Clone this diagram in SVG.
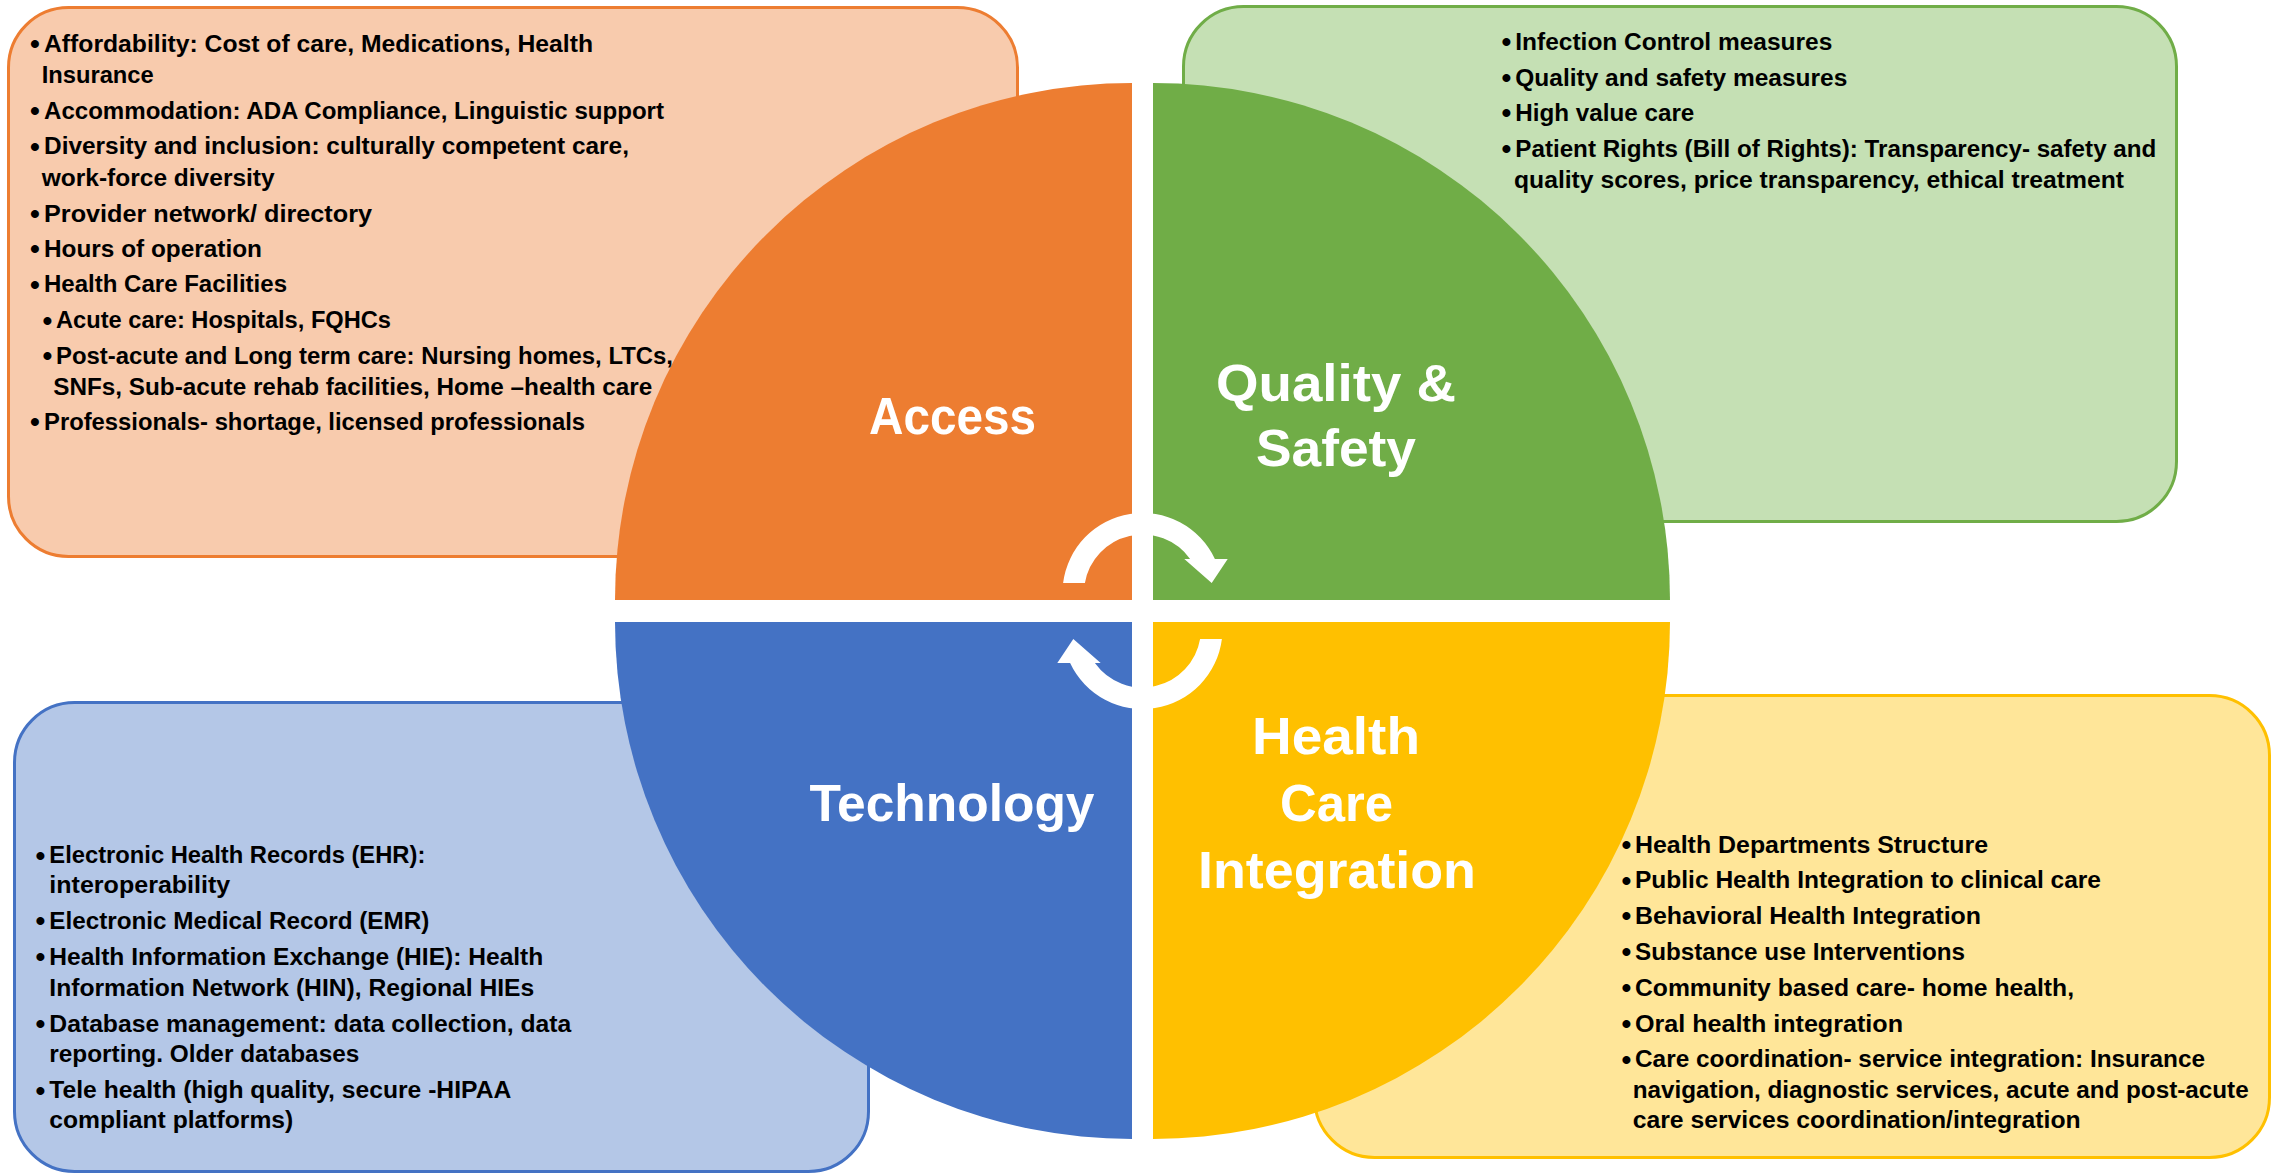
<svg xmlns="http://www.w3.org/2000/svg" width="2272" height="1174" viewBox="0 0 2272 1174">
<style>
.box{stroke-width:3}
.t{font-family:"Liberation Sans",Arial,sans-serif;font-weight:bold;font-size:23px;fill:#000}
.b{font-size:28px}
.h{font-family:"Liberation Sans",Arial,sans-serif;font-weight:bold;font-size:52px;fill:#fff;text-anchor:middle}
</style>
<rect width="2272" height="1174" fill="#fff"/>

<g id="access">
<rect class="box" x="8.5" y="7.5" width="1009" height="549" rx="60" ry="60" fill="#F8CBAD" stroke="#ED7D31"/>
<path d="M1132 600 L615 600 A517 517 0 0 1 1132 83 Z" fill="#ED7D31"/>
<text class="h" x="952.5" y="434" textLength="167" lengthAdjust="spacingAndGlyphs">Access</text>
<g class="t">
<text class="b" x="30" y="53">•</text><text x="44" y="51.7" textLength="549" lengthAdjust="spacingAndGlyphs">Affordability: Cost of care, Medications, Health</text>
<text x="41.7" y="83" textLength="112" lengthAdjust="spacingAndGlyphs">Insurance</text>
<text class="b" x="30" y="120.3">•</text><text x="44" y="119" textLength="620" lengthAdjust="spacingAndGlyphs">Accommodation: ADA Compliance, Linguistic support</text>
<text class="b" x="30" y="155.6">•</text><text x="44" y="154.3" textLength="585" lengthAdjust="spacingAndGlyphs">Diversity and inclusion: culturally competent care,</text>
<text x="41.7" y="185.7" textLength="233" lengthAdjust="spacingAndGlyphs">work-force diversity</text>
<text class="b" x="30" y="223">•</text><text x="44" y="221.7" textLength="328" lengthAdjust="spacingAndGlyphs">Provider network/ directory</text>
<text class="b" x="30" y="258">•</text><text x="44" y="256.7" textLength="218" lengthAdjust="spacingAndGlyphs">Hours of operation</text>
<text class="b" x="30" y="293.6">•</text><text x="44" y="292.3" textLength="243" lengthAdjust="spacingAndGlyphs">Health Care Facilities</text>
<text class="b" x="42.5" y="329.6">•</text><text x="56" y="328.3" textLength="335" lengthAdjust="spacingAndGlyphs">Acute care: Hospitals, FQHCs</text>
<text class="b" x="42.5" y="365.3">•</text><text x="56" y="364" textLength="617" lengthAdjust="spacingAndGlyphs">Post-acute and Long term care: Nursing homes, LTCs,</text>
<text x="53.3" y="395" textLength="599" lengthAdjust="spacingAndGlyphs">SNFs, Sub-acute rehab facilities, Home –health care</text>
<text class="b" x="30" y="431.3">•</text><text x="44" y="430" textLength="541" lengthAdjust="spacingAndGlyphs">Professionals- shortage, licensed professionals</text>
</g>
</g>

<g id="quality-safety">
<rect class="box" x="1183.5" y="6.5" width="993" height="515" rx="60" ry="60" fill="#C5E0B4" stroke="#70AD47"/>
<path d="M1153 600 L1153 83 A517 517 0 0 1 1670 600 Z" fill="#70AD47"/>
<text class="h" x="1336" y="400.6" textLength="240" lengthAdjust="spacingAndGlyphs">Quality &amp;</text>
<text class="h" x="1336" y="466" textLength="160" lengthAdjust="spacingAndGlyphs">Safety</text>
<g class="t">
<text class="b" x="1501.5" y="51.3">•</text><text x="1515.3" y="50" textLength="317" lengthAdjust="spacingAndGlyphs">Infection Control measures</text>
<text class="b" x="1501.5" y="86.8">•</text><text x="1515.3" y="85.5" textLength="332" lengthAdjust="spacingAndGlyphs">Quality and safety measures</text>
<text class="b" x="1501.5" y="122.3">•</text><text x="1515.3" y="121" textLength="179" lengthAdjust="spacingAndGlyphs">High value care</text>
<text class="b" x="1501.5" y="157.8">•</text><text x="1515.3" y="156.5" textLength="641" lengthAdjust="spacingAndGlyphs">Patient Rights (Bill of Rights): Transparency- safety and</text>
<text x="1514" y="188" textLength="610" lengthAdjust="spacingAndGlyphs">quality scores, price transparency, ethical treatment</text>
</g>
</g>

<g id="technology">
<rect class="box" x="14.5" y="702.5" width="854" height="469" rx="60" ry="60" fill="#B4C7E7" stroke="#4472C4"/>
<path d="M1132 622 L1132 1139 A517 517 0 0 1 615 622 Z" fill="#4472C4"/>
<text class="h" x="952" y="821" textLength="285" lengthAdjust="spacingAndGlyphs">Technology</text>
<g class="t">
<text class="b" x="35.5" y="864.6">•</text><text x="49.3" y="863.3" textLength="376" lengthAdjust="spacingAndGlyphs">Electronic Health Records (EHR):</text>
<text x="49.3" y="893.3" textLength="181" lengthAdjust="spacingAndGlyphs">interoperability</text>
<text class="b" x="35.5" y="930.3">•</text><text x="49.3" y="929" textLength="380" lengthAdjust="spacingAndGlyphs">Electronic Medical Record (EMR)</text>
<text class="b" x="35.5" y="966.3">•</text><text x="49.3" y="965" textLength="494" lengthAdjust="spacingAndGlyphs">Health Information Exchange (HIE): Health</text>
<text x="49.3" y="995.7" textLength="485" lengthAdjust="spacingAndGlyphs">Information Network (HIN), Regional HIEs</text>
<text class="b" x="35.5" y="1033">•</text><text x="49.3" y="1031.7" textLength="522" lengthAdjust="spacingAndGlyphs">Database management: data collection, data</text>
<text x="49.3" y="1062.3" textLength="310" lengthAdjust="spacingAndGlyphs">reporting. Older databases</text>
<text class="b" x="35.5" y="1099.6">•</text><text x="49.3" y="1098.3" textLength="462" lengthAdjust="spacingAndGlyphs">Tele health (high quality, secure -HIPAA</text>
<text x="49.3" y="1128.3" textLength="244" lengthAdjust="spacingAndGlyphs">compliant platforms)</text>
</g>
</g>

<g id="health-care-integration">
<rect class="box" x="1314.5" y="695.5" width="955" height="462" rx="60" ry="60" fill="#FFE699" stroke="#FFC000"/>
<path d="M1153 622 L1670 622 A517 517 0 0 1 1153 1139 Z" fill="#FFC000"/>
<text class="h" x="1336" y="754" textLength="168" lengthAdjust="spacingAndGlyphs">Health</text>
<text class="h" x="1336.5" y="821" textLength="113" lengthAdjust="spacingAndGlyphs">Care</text>
<text class="h" x="1337" y="888" textLength="278" lengthAdjust="spacingAndGlyphs">Integration</text>
<g class="t">
<text class="b" x="1621.5" y="854">•</text><text x="1635" y="852.7" textLength="353" lengthAdjust="spacingAndGlyphs">Health Departments Structure</text>
<text class="b" x="1621.5" y="889.6">•</text><text x="1635" y="888.3" textLength="466" lengthAdjust="spacingAndGlyphs">Public Health Integration to clinical care</text>
<text class="b" x="1621.5" y="925.3">•</text><text x="1635" y="924" textLength="346" lengthAdjust="spacingAndGlyphs">Behavioral Health Integration</text>
<text class="b" x="1621.5" y="961.3">•</text><text x="1635" y="960" textLength="330" lengthAdjust="spacingAndGlyphs">Substance use Interventions</text>
<text class="b" x="1621.5" y="997">•</text><text x="1635" y="995.7" textLength="439" lengthAdjust="spacingAndGlyphs">Community based care- home health,</text>
<text class="b" x="1621.5" y="1033">•</text><text x="1635" y="1031.7" textLength="268" lengthAdjust="spacingAndGlyphs">Oral health integration</text>
<text class="b" x="1621.5" y="1068.6">•</text><text x="1635" y="1067.3" textLength="570" lengthAdjust="spacingAndGlyphs">Care coordination- service integration: Insurance</text>
<text x="1632.7" y="1098.3" textLength="616" lengthAdjust="spacingAndGlyphs">navigation, diagnostic services, acute and post-acute</text>
<text x="1632.7" y="1128.3" textLength="448" lengthAdjust="spacingAndGlyphs">care services coordination/integration</text>
</g>
</g>

<g id="connectors" fill="#fff">
<path id="arrow-top" d="M1084.9 583 L1063.1 583 A80 80 0 0 1 1214.9 559 L1227.7 559 L1211.7 583 L1184.3 559 L1190.1 559 A58.5 58.5 0 0 0 1084.9 583 Z"/>
<path id="arrow-bottom" transform="rotate(180 1142.5 611)" d="M1084.9 583 L1063.1 583 A80 80 0 0 1 1214.9 559 L1227.7 559 L1211.7 583 L1184.3 559 L1190.1 559 A58.5 58.5 0 0 0 1084.9 583 Z"/>
</g>
</svg>
